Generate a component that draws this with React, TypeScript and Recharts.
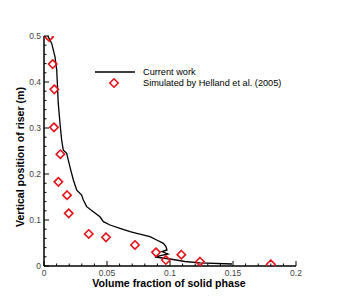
import { ScatterChart, Scatter, XAxis, YAxis } from "recharts";

// Current work (black line)
const lineX = [
  0.003, 0.0061, 0.0087, 0.0101, 0.0106, 0.0113, 0.0127, 0.014, 0.0153, 0.018,
  0.0193, 0.0212, 0.0233, 0.026, 0.0299, 0.0312, 0.0339, 0.0391, 0.0444, 0.0471,
  0.0524, 0.0603, 0.0683, 0.0736, 0.0841, 0.0894, 0.0947, 0.0968, 0.0976, 0.0937,
  0.0984, 0.0881, 0.1, 0.1119, 0.1238, 0.1492,
];
const lineY = [
  0.5, 0.484, 0.455, 0.426, 0.397, 0.354, 0.31, 0.274, 0.252, 0.245,
  0.23, 0.209, 0.187, 0.165, 0.154, 0.1435, 0.129, 0.118, 0.107, 0.0963,
  0.0891, 0.082, 0.0746, 0.0711, 0.0637, 0.0565, 0.0493, 0.042, 0.0348, 0.0315,
  0.0261, 0.0196, 0.0152, 0.0098, 0.007, 0.0043,
];

// Simulated by Helland et al. (2005) (red diamonds)
const hellandX = [
  0.004, 0.0069, 0.0082, 0.0079, 0.013, 0.0114, 0.0183, 0.0196, 0.0355, 0.0492,
  0.0722, 0.0889, 0.0967, 0.109, 0.1238, 0.18,
];
const hellandY = [
  0.498, 0.439, 0.384, 0.3015, 0.243, 0.183, 0.154, 0.1145, 0.0696, 0.0624,
  0.0457, 0.0297, 0.013, 0.0246, 0.0094, 0.0037,
];

const xTicks = [
  0, 0.01, 0.02, 0.03, 0.04, 0.05, 0.06, 0.07, 0.08, 0.09, 0.1,
  0.11, 0.12, 0.13, 0.14, 0.15, 0.16, 0.17, 0.18, 0.19, 0.2,
];
const xMajor = [0, 0.05, 0.1, 0.15, 0.2];
const yTicks = [
  0, 0.02, 0.04, 0.06, 0.08, 0.1, 0.12, 0.14, 0.16, 0.18, 0.2, 0.22, 0.24,
  0.26, 0.28, 0.3, 0.32, 0.34, 0.36, 0.38, 0.4, 0.42, 0.44, 0.46, 0.48, 0.5,
];
const yMajor = [0, 0.1, 0.2, 0.3, 0.4, 0.5];

const lineData = lineX.map((x, i) => ({ x, y: lineY[i] }));
const hellandData = hellandX.map((x, i) => ({ x, y: hellandY[i] }));

const font = "'Liberation Sans', Arial, sans-serif";
const red = "#e3141b";

const XTick = (props: any) => {
  const { x, y, payload } = props;
  const major = xMajor.includes(payload.value);
  return (
    <g>
      <line x1={x} y1={y} x2={x} y2={y - (major ? 5 : 2.5)} stroke="#000" strokeWidth={1} />
      {major && (
        <text x={x} y={y + 9.5} textAnchor="middle" fontSize={8.5} fill="#444" fontFamily={font}>
          {String(payload.value)}
        </text>
      )}
    </g>
  );
};

const YTick = (props: any) => {
  const { x, y, payload } = props;
  const major = yMajor.includes(payload.value);
  return (
    <g>
      <line x1={x} y1={y} x2={x + (major ? 5 : 2.5)} y2={y} stroke="#000" strokeWidth={1} />
      {major && (
        <text x={x - 3} y={y + 3} textAnchor="end" fontSize={8.5} fill="#444" fontFamily={font}>
          {String(payload.value)}
        </text>
      )}
    </g>
  );
};

const Diamond = (props: any) => {
  const { cx, cy } = props;
  const s = 4.2;
  return (
    <polygon
      points={`${cx},${cy - s} ${cx + s},${cy} ${cx},${cy + s} ${cx - s},${cy}`}
      fill="none"
      stroke={red}
      strokeWidth={1.6}
    />
  );
};

const NoDot = () => <g />;

export default function App() {
  return (
    <div style={{ position: "absolute", left: 0, top: 0, width: 337, height: 300, background: "#fff" }}>
      <ScatterChart width={337} height={300} margin={{ top: 36, right: 41, bottom: 33, left: 43 }}>
        <XAxis
          type="number"
          dataKey="x"
          domain={[0, 0.2]}
          ticks={xTicks}
          interval={0}
          height={1}
          tickSize={0}
          tickMargin={0}
          tickLine={false}
          tick={XTick}
          axisLine={{ stroke: "#000", strokeWidth: 1.5 }}
          allowDataOverflow
        />
        <YAxis
          type="number"
          dataKey="y"
          domain={[0, 0.5]}
          ticks={yTicks}
          interval={0}
          width={1}
          tickSize={0}
          tickMargin={0}
          tickLine={false}
          tick={YTick}
          axisLine={{ stroke: "#000", strokeWidth: 1.5 }}
          allowDataOverflow
        />
        <Scatter
          data={lineData}
          line={{ stroke: "#000", strokeWidth: 1.3 }}
          shape={NoDot}
          isAnimationActive={false}
        />
        <Scatter data={hellandData} shape={Diamond} isAnimationActive={false} />
      </ScatterChart>
      <svg
        width={230}
        height={24}
        style={{ position: "absolute", left: 95, top: 67, overflow: "visible" }}
      >
        <line x1={0} y1={5} x2={40} y2={5} stroke="#000" strokeWidth={1.5} />
        <polygon points="19,11.8 23.2,16 19,20.2 14.8,16" fill="none" stroke={red} strokeWidth={1.6} />
        <text x={48} y={8.3} fontSize={9.2} fontFamily={font} fill="#000">Current work</text>
        <text x={48} y={19.3} fontSize={9.2} fontFamily={font} fill="#000">Simulated by Helland et al. (2005)</text>
      </svg>
      <div
        style={{
          position: "absolute",
          left: 169,
          top: 283,
          transform: "translate(-50%, -50%)",
          whiteSpace: "nowrap",
          fontFamily: font,
          fontWeight: "bold",
          fontSize: 10.6,
        }}
      >
        Volume fraction of solid phase
      </div>
      <div
        style={{
          position: "absolute",
          left: 20,
          top: 157,
          transform: "translate(-50%, -50%) rotate(-90deg)",
          whiteSpace: "nowrap",
          fontFamily: font,
          fontWeight: "bold",
          fontSize: 10.6,
        }}
      >
        Vertical position of riser (m)
      </div>
    </div>
  );
}
